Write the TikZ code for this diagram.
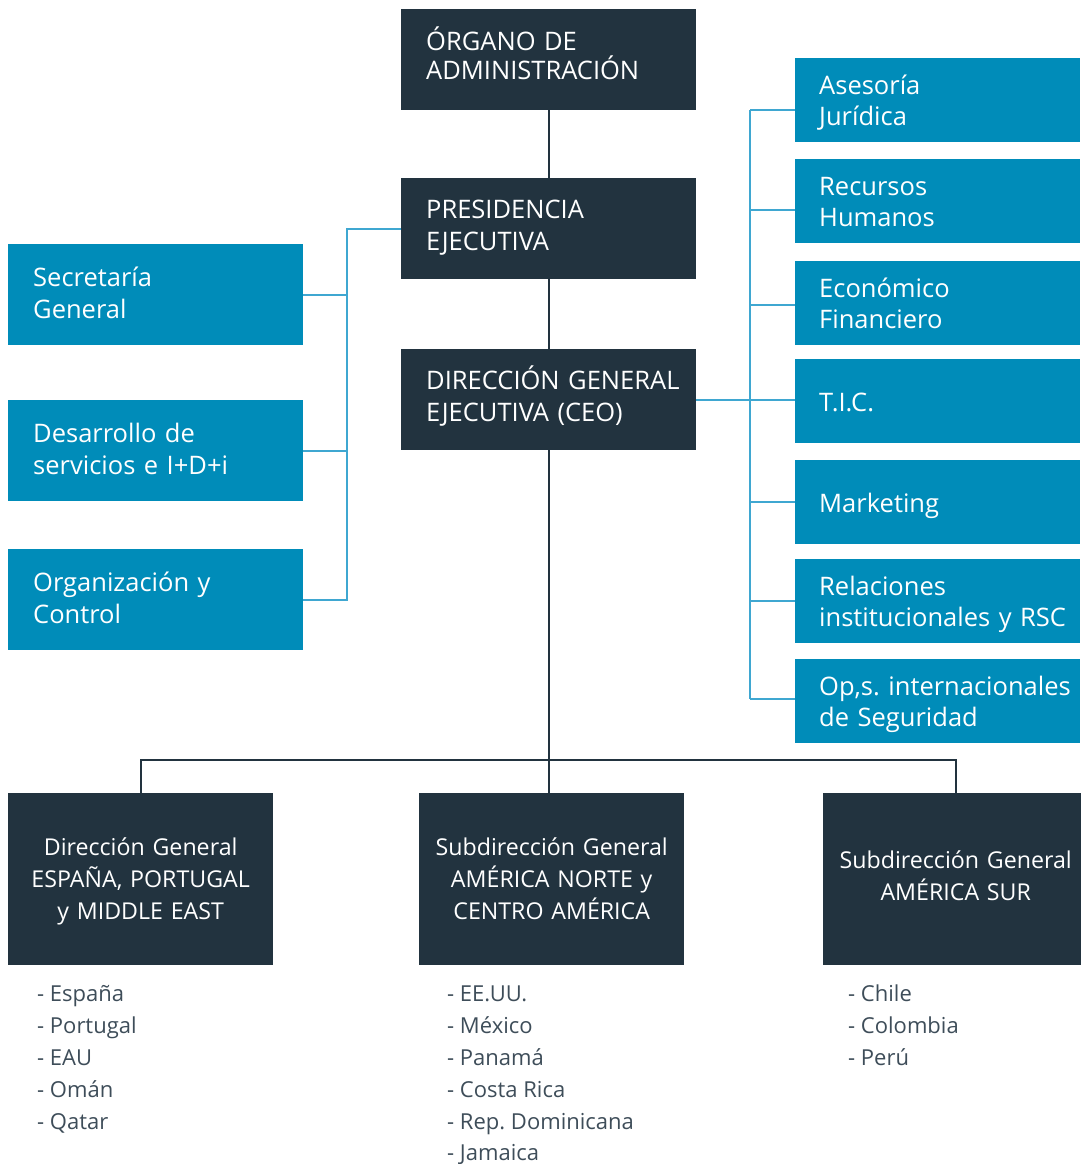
\documentclass[tikz,border=0pt]{standalone}
\usepackage{fontspec}
\setmainfont{Open Sans}
\frenchspacing
\definecolor{navy}{HTML}{22333F}
\definecolor{boxblue}{HTML}{008CB9}
\definecolor{lineblue}{HTML}{3FA7D1}
\definecolor{listgray}{HTML}{3E4D59}
\begin{document}
\begin{tikzpicture}[x=1pt,y=-1pt,
  struts/.style 2 args={execute at begin node={\hyphenpenalty=10000\exhyphenpenalty=10000\rule{0pt}{#1}},
    execute at end node={\rule[-#2]{0pt}{#2}}},
  darkbox/.style={fill=navy, text=white, draw=none, anchor=north west, minimum height=101pt,
    inner xsep=25pt, inner ysep=0pt, text width=245pt, align=left,
    font=\fontsize{25.5}{32}\selectfont, struts={27pt}{15.8pt}},
  leftbox/.style={fill=boxblue, text=white, draw=none, anchor=north west, minimum height=101pt,
    inner xsep=25pt, inner ysep=0pt, text width=245pt, align=left,
    font=\fontsize{25.5}{32.5}\selectfont, struts={27pt}{11.4pt}},
  rightbox/.style={fill=boxblue, text=white, draw=none, anchor=north west, minimum height=84pt,
    inner xsep=24pt, inner ysep=0pt, text width=237pt, align=left,
    font=\fontsize{25.5}{31.5}\selectfont, struts={27pt}{7pt}},
  regbox/.style={fill=navy, text=white, draw=none, anchor=north west, minimum height=172pt,
    inner xsep=4pt, inner ysep=0pt, text width=257pt, align=center,
    font=\fontsize{23.2}{32}\selectfont, struts={25pt}{8.4pt}},
  listitem/.style={anchor=base west, inner sep=0pt, text=listgray,
    font=\fontsize{22}{32}\selectfont},
  darkline/.style={draw=navy, line width=1.6pt},
  blueline/.style={draw=lineblue, line width=1.6pt}]
\useasboundingbox (0,0) rectangle (1080,1164);

% central column
\node[darkbox, font=\fontsize{25.5}{29}\selectfont] (org) at (401,9) {ÓRGANO DE\\ADMINISTRACIÓN};
\node[darkbox] (pres) at (401,178) {PRESIDENCIA\\EJECUTIVA};
\node[darkbox] (ceo) at (401,349) {\mbox{DIRECCIÓN GENERAL}\\EJECUTIVA (CEO)};

% left column
\node[leftbox] (sec) at (8,244) {Secretaría\\General};
\node[leftbox] (des) at (8,400) {Desarrollo de\\servicios e I+D+i};
\node[leftbox] (orgc) at (8,549) {Organización y\\Control};

% right column
\node[rightbox] (ase) at (795,58) {Asesoría\\Jurídica};
\node[rightbox] (rec) at (795,159) {Recursos\\Humanos};
\node[rightbox] (eco) at (795,261) {Económico\\Financiero};
\node[rightbox] (tic) at (795,359) {T.I.C.};
\node[rightbox] (mkt) at (795,460) {Marketing};
\node[rightbox] (rel) at (795,559) {Relaciones\\\mbox{institucionales y RSC}};
\node[rightbox] (ops) at (795,659) {\mbox{Op,s. internacionales}\\de Seguridad};

% regional boxes
\node[regbox] (b1) at (8,793) {Dirección General\\ESPAÑA, PORTUGAL\\y MIDDLE EAST};
\node[regbox] (b2) at (419,793) {Subdirección General\\AMÉRICA NORTE y\\CENTRO AMÉRICA};
\node[regbox, struts={25pt}{15.4pt}] (b3) at (823,793) {Subdirección General\\AMÉRICA SUR};

% country lists
\foreach \t [count=\i] in {España, Portugal, EAU, Omán, Qatar}
  \node[listitem] (la\i) at (37,{1001.7+32*(\i-1)}) {- \t};
\foreach \t [count=\i] in {EE.UU., México, Panamá, Costa Rica, Rep. Dominicana}
  \node[listitem] (lb\i) at (447,{1001.7+32*(\i-1)}) {- \t};
\node[listitem] (lb6) at (447,1160) {- Jamaica};
\foreach \t [count=\i] in {Chile, Colombia, Perú}
  \node[listitem] (lc\i) at (848,{1001.7+32*(\i-1)}) {- \t};

% dark connectors
\draw[darkline] (org.south) -- (pres.north);
\draw[darkline] (pres.south) -- (ceo.north);
\draw[darkline] (ceo.south) -- (ceo.south |- b2.north);
\coordinate (busL) at (141,760);
\coordinate (busR) at (956,760);
\draw[darkline] (busL |- b1.north) -- (busL) -- (busR) -- (busR |- b3.north);

% left blue connectors
\coordinate (lv) at (347,0);
\draw[blueline] (pres.west) -- (pres.west -| lv) -- (lv |- orgc.east) -- (orgc.east);
\draw[blueline] (lv |- sec.east) -- (sec.east);
\draw[blueline] (lv |- des.east) -- (des.east);

% right blue connectors
\coordinate (ra) at (750,110);
\coordinate (rr) at (750,210);
\coordinate (re) at (750,305);
\coordinate (rm) at (750,502);
\coordinate (rl) at (750,601);
\coordinate (ro) at (750,699);
\draw[blueline] (ceo.east) -- (ceo.east -| tic.west);
\draw[blueline] (ra) -- (ro);
\draw[blueline] (ra) -- (ra -| ase.west);
\draw[blueline] (rr) -- (rr -| rec.west);
\draw[blueline] (re) -- (re -| eco.west);
\draw[blueline] (rm) -- (rm -| mkt.west);
\draw[blueline] (rl) -- (rl -| rel.west);
\draw[blueline] (ro) -- (ro -| ops.west);
\end{tikzpicture}
\end{document}
